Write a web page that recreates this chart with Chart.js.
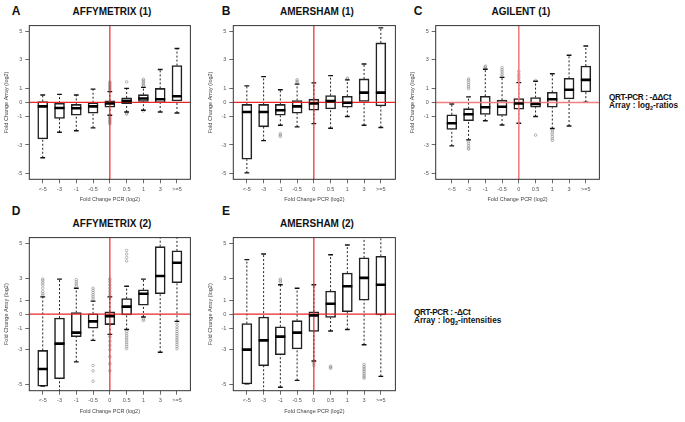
<!DOCTYPE html>
<html>
<head>
<meta charset="utf-8">
<script src="https://cdn.jsdelivr.net/npm/chart.js@4"></script>
<style>
body { margin: 0; background: #fff; }
#fig { position: relative; width: 685px; height: 422px; overflow: hidden; background: #fff;
       font-family: "Liberation Sans", Arial, sans-serif; }
#fig canvas { position: absolute; }
.lbl { position: absolute; font-weight: bold; color: #111; white-space: nowrap; transform: translate(-50%, -50%); }
.ttl { font-size: 10px; }
.let { font-size: 12px; }
.note { position: absolute; font-weight: bold; font-size: 8.2px; line-height: 8px; color: #111; white-space: nowrap; }
.note .q { letter-spacing: -0.35px; }
.note sub { font-size: 5.5px; line-height: 0; vertical-align: -1.5px; }
</style>
</head>
<body>
<div id="fig">
  <div class="lbl let" style="left:16px;top:11px">A</div>
  <div class="lbl let" style="left:226px;top:11px">B</div>
  <div class="lbl let" style="left:418px;top:11px">C</div>
  <div class="lbl let" style="left:16px;top:211px">D</div>
  <div class="lbl let" style="left:226px;top:211px">E</div>
  <div class="lbl ttl" style="left:112px;top:11px">AFFYMETRIX (1)</div>
  <div class="lbl ttl" style="left:317px;top:11px">AMERSHAM (1)</div>
  <div class="lbl ttl" style="left:521px;top:11px">AGILENT (1)</div>
  <div class="lbl ttl" style="left:112px;top:223px">AFFYMETRIX (2)</div>
  <div class="lbl ttl" style="left:317px;top:223px">AMERSHAM (2)</div>
  <div class="note" style="left:609px;top:94px"><span class="q">QRT-PCR : -ΔΔCt</span><br>Array : log<sub>2</sub>-ratios</div>
  <div class="note" style="left:414px;top:308.5px"><span class="q">QRT-PCR : -ΔCt</span><br>Array : log<sub>2</sub>-intensities</div>
  <canvas id="chartA"></canvas>
  <canvas id="chartB"></canvas>
  <canvas id="chartC"></canvas>
  <canvas id="chartD"></canvas>
  <canvas id="chartE"></canvas>
</div>
<script>
const xCats = ['<-5', '-3', '-1', '-0.5', '0', '0.5', '1', '3', '>=5'];
const yTickVals = [-5, -3, -1, 0, 1, 3, 5];

// A - Affymetrix (1): whisker low, Q1, median, Q3, whisker high
const aLo  = [-3.9, -2.1, -2.0, -1.79, -0.9, -0.67, -0.55, -0.67, -0.74];
const aQ1  = [-2.57, -1.13, -0.9, -0.76, -0.34, -0.09, 0.07, -0.02, 0.11];
const aMed = [-0.28, -0.39, -0.41, -0.28, -0.07, 0.09, 0.28, 0.23, 0.44];
const aQ3  = [0.07, -0.05, -0.14, -0.02, 0.11, 0.32, 0.55, 0.99, 2.6];
const aHi  = [0.53, 0.57, 0.53, 0.94, 0.76, 0.99, 1.06, 2.32, 3.8];
const aOut = [[4, 0.85], [4, 0.95], [4, 1.05], [4, 1.15], [4, 1.25], [4, 1.35], [4, 1.45],
              [4, -1.0], [4, -1.1], [4, -1.2], [4, -1.3], [4, -1.4], [4, -1.5],
              [5, 1.45], [5, -0.75], [5, -0.82],
              [6, 1.15], [6, 1.25], [6, 1.35], [6, 1.45], [6, 1.55], [6, 1.63], [6, -0.6]];

// B - Amersham (1)
const bLo  = [-4.97, -2.69, -1.61, -1.72, -1.49, -1.82, -0.99, -1.61, -1.77];
const bQ1  = [-4.0, -1.72, -0.9, -0.76, -0.55, -0.46, -0.34, 0.07, -0.25];
const bMed = [-0.67, -0.67, -0.55, -0.28, -0.07, 0.09, -0.02, 0.69, 0.69];
const bQ3  = [-0.14, -0.14, -0.14, 0.14, 0.23, 0.48, 0.44, 1.66, 4.2];
const bHi  = [1.17, 1.82, 0.9, 1.29, 1.38, 1.89, 1.59, 2.71, 5.26];
const bOut = [[2, -2.2], [2, -2.3], [2, -2.4], [3, 1.4], [3, 1.5], [3, 1.6], [6, 1.65], [6, 1.72]];

// C - Agilent (1)
const cLo  = [-3.06, -2.64, -1.29, -1.59, -1.47, -0.99, -1.84, -1.66, 0.02];
const cQ1  = [-1.9, -1.29, -0.85, -0.92, -0.48, -0.34, -0.34, 0.25, 0.74];
const cMed = [-1.47, -0.83, -0.34, -0.3, -0.07, -0.11, 0.23, 0.9, 1.59];
const cQ3  = [-0.87, -0.44, 0.44, 0.16, 0.28, 0.34, 0.71, 1.7, 2.57];
const cHi  = [-0.11, 0.39, 2.34, 1.77, 1.4, 1.49, 2.02, 3.33, 3.98];
const cOut = [[1, 0.97], [1, 1.1], [1, 1.25], [1, 1.4], [1, 1.55], [1, 1.66],
              [1, -2.75], [1, -2.9], [1, -3.05], [1, -3.2], [1, -3.29],
              [2, 2.4], [2, 2.5], [2, 2.56],
              [3, 1.85], [3, 2.0], [3, 2.15], [3, 2.3], [3, 2.45],
              [4, 1.55], [4, 1.7], [4, 1.85], [4, 2.0], [4, 2.2],
              [5, 1.55], [5, -2.3],
              [6, -1.95], [6, -2.1], [6, -2.25], [6, -2.4], [6, -2.55], [6, -2.67]];

// D - Affymetrix (2)
const dLo  = [-5.08, -5.6, -3.69, -2.13, -1.57, -1.11, -0.2, -3.14, -0.51];
const dQ1  = [-5.08, -4.65, -1.78, -0.99, -0.74, -0.05, 0.64, 1.59, 2.62];
const dMed = [-4.1, -2.43, -1.41, -0.51, -0.14, 0.53, 1.59, 3.15, 3.9];
const dQ3  = [-3.04, -0.28, 0.11, 0.02, 0.16, 1.13, 1.95, 4.82, 4.58];
const dHi  = [1.29, 2.95, 2.1, 0.92, 1.29, 2.29, 2.95, 5.6, 5.6];
const dOut = [[0, 1.45], [0, 1.6], [0, 1.8], [0, 2.1], [0, 2.4], [0, 2.6], [0, 2.8], [0, 2.95],
              [2, 2.3], [2, 2.5], [2, 2.7], [2, 2.9],
              [3, 1.1], [3, 1.3], [3, 1.5], [3, 1.7], [3, 1.9], [3, 2.1], [3, -3.9], [3, -4.2], [3, -4.8],
              [4, 1.5], [4, 1.8], [4, 2.1], [4, 2.4], [4, 2.7], [4, 2.95],
              [4, -1.8], [4, -2.2], [4, -2.6], [4, -3.0], [4, -3.4], [4, -3.8], [4, -4.2],
              [5, 4.0], [5, 4.2], [5, 4.4], [5, 4.6],
              [5, -1.3], [5, -1.5], [5, -1.7], [5, -1.9], [5, -2.1], [5, -2.3], [5, -2.5], [5, -2.7], [5, -2.9],
              [6, -0.35], [6, -0.45],
              [8, -0.7], [8, -0.9], [8, -1.1], [8, -1.3], [8, -1.5], [8, -1.7], [8, -1.9], [8, -2.1], [8, -2.3], [8, -2.5], [8, -2.7], [8, -2.9]];

// E - Amersham (2)
const eLo  = [-4.95, -5.6, -5.14, -4.75, -3.64, -1.26, -1.11, -2.53, -4.52];
const eQ1  = [-4.95, -3.92, -3.28, -2.92, -1.29, -0.23, 0.18, 0.99, -0.05];
const eMed = [-2.99, -2.13, -1.78, -1.41, -0.09, 0.74, 2.29, 3.04, 2.43];
const eQ3  = [-0.67, -0.21, -0.9, -0.46, 0.16, 1.83, 3.31, 4.18, 4.27];
const eHi  = [4.08, 4.4, 2.43, 2.1, 2.43, 4.36, 4.92, 5.6, 5.6];
const eOut = [[2, 2.66], [2, 2.8], [2, 2.95], [4, -3.75], [4, -3.9],
              [5, -3.94], [5, -4.0], [5, -4.06],
              [7, -3.84], [7, -3.95], [7, -4.05], [7, -4.15], [7, -4.25], [7, -4.35], [7, -4.45], [7, -4.55], [7, -4.62]];

// the intensity panels (D, E) use a bent y axis: tick values -> axis units
const bendVals = [0, 1, 3, 5];
const bendPos = [0, 1, 2.52, 5];
function bend(v) {
  const a = Math.abs(v);
  let i = 1;
  while (i < bendVals.length - 1 && a > bendVals[i]) i++;
  const slope = (bendPos[i] - bendPos[i - 1]) / (bendVals[i] - bendVals[i - 1]);
  return Math.sign(v) * (bendPos[i - 1] + (a - bendVals[i - 1]) * slope);
}

const font = '"Liberation Sans", Arial, sans-serif';
const refCat = xCats.indexOf('0');

const framePlugin = {
  id: 'frame',
  afterDatasetsDraw(chart) {
    const { ctx, chartArea: a } = chart;
    ctx.save();
    ctx.strokeStyle = '#333';
    ctx.lineWidth = 1;
    ctx.strokeRect(a.left, a.top, a.right - a.left, a.bottom - a.top);
    ctx.restore();
  }
};

function boxPanel(id, box, stats, outs, opt) {
  const f = opt.bent ? bend : v => v;
  const [lo, q1, med, q3, hi] = stats;
  const yAxisW = 29.3, xAxisH = 25.7;
  const cl = Math.floor(box.l - yAxisW - 1), ct = Math.floor(box.t - 4);
  const w = Math.ceil(box.r - cl + 3), h = Math.ceil(box.b - ct + xAxisH + 1);
  const cv = document.getElementById(id);
  cv.width = w; cv.height = h;
  cv.style.left = cl + 'px'; cv.style.top = ct + 'px';
  cv.style.width = w + 'px'; cv.style.height = h + 'px';

  const boxes = xCats.map((c, i) => ({ x: i, y: [f(q1[i]), f(q3[i])] }));
  const meds = xCats.map((c, i) => ({ x: i, y: f(med[i]) }));
  const caps = [];
  const whisk = [];
  xCats.forEach((c, i) => {
    caps.push({ x: i, y: f(lo[i]) }, { x: i, y: f(hi[i]) });
    whisk.push({ x: i, y: f(lo[i]) }, { x: i, y: f(q1[i]) }, { x: i, y: null },
               { x: i, y: f(q3[i]) }, { x: i, y: f(hi[i]) }, { x: i, y: null });
  });
  const outPts = outs.map(o => ({ x: o[0], y: f(o[1]) }));
  const yMin = -5.42, yMax = 5.42;

  new Chart(cv, {
    type: 'bar',
    data: {
      datasets: [
        { type: 'line', data: meds, showLine: false, pointStyle: 'line', pointRadius: 5,
          pointBorderWidth: 2.6, borderColor: '#000', order: 0 },
        { type: 'line', data: [{ x: opt.xMin, y: 0 }, { x: opt.xMax, y: 0 }], borderColor: opt.red,
          borderWidth: opt.redW, pointRadius: 0, order: 1 },
        { type: 'line', data: [{ x: refCat, y: yMin }, { x: refCat, y: yMax }], borderColor: opt.red,
          borderWidth: opt.redW, pointRadius: 0, order: 1 },
        { type: 'line', data: caps, showLine: false, pointStyle: 'line', pointRadius: 2.4,
          pointBorderWidth: 1.4, borderColor: '#111', order: 2 },
        { type: 'bar', data: boxes, backgroundColor: 'rgba(0,0,0,0)', borderColor: '#222',
          borderWidth: 0.9, borderSkipped: false, barThickness: 10, order: 3 },
        { type: 'line', data: whisk, borderColor: '#222', borderWidth: 1, borderDash: [2, 2],
          pointRadius: 0, spanGaps: false, order: 4 },
        { type: 'line', data: outPts, showLine: false, pointStyle: 'circle', pointRadius: 1.3,
          pointBorderWidth: 0.6, borderColor: '#8a8a8a', backgroundColor: 'rgba(0,0,0,0)', order: 5 }
      ]
    },
    options: {
      responsive: false,
      animation: false,
      events: [],
      layout: { padding: { left: box.l - yAxisW - cl, top: box.t - ct, right: w - (box.r - cl), bottom: h - (box.b - ct) - xAxisH } },
      plugins: { legend: { display: false }, tooltip: { enabled: false } },
      scales: {
        x: {
          type: 'linear', min: opt.xMin, max: opt.xMax, offset: false,
          afterBuildTicks: s => { s.ticks = xCats.map((c, i) => ({ value: i })); },
          afterFit: s => { s.height = xAxisH; },
          ticks: { autoSkip: false, maxRotation: 0, minRotation: 0, padding: 2.5, color: '#555',
                   font: { family: font, size: 5.5 }, callback: (v, i) => xCats[i] },
          grid: { drawOnChartArea: false, offset: false, tickLength: 4, color: '#444', lineWidth: 0.8 },
          border: { display: false },
          title: { display: true, text: 'Fold Change PCR (log2)', color: '#444',
                   font: { family: font, size: 5.5 }, padding: { top: 0, bottom: 2 } }
        },
        y: {
          type: 'linear', min: yMin, max: yMax,
          afterBuildTicks: s => { s.ticks = yTickVals.map(v => ({ value: f(v) })); },
          afterFit: s => { s.width = yAxisW; },
          ticks: { autoSkip: false, padding: 3, color: '#555', font: { family: font, size: 5.5 },
                   callback: (v, i) => String(yTickVals[i]) },
          grid: { drawOnChartArea: false, tickLength: 4, color: '#444', lineWidth: 0.8 },
          border: { display: false },
          title: { display: true, text: 'Fold Change Array (log2)', color: '#444',
                   font: { family: font, size: 5.5 }, padding: { top: 3, bottom: 0 } }
        }
      }
    },
    plugins: [framePlugin]
  });
}

const red = '#e8262a';
boxPanel('chartA', { l: 29.3, r: 195, t: 22.3, b: 179.3 }, [aLo, aQ1, aMed, aQ3, aHi], aOut,
         { bent: false, red: red, redW: 1.2, xMin: -0.8, xMax: 8.8 });
boxPanel('chartB', { l: 233.3, r: 400, t: 22.3, b: 179.3 }, [bLo, bQ1, bMed, bQ3, bHi], bOut,
         { bent: false, red: red, redW: 1.2, xMin: -0.81, xMax: 8.87 });
boxPanel('chartC', { l: 435.7, r: 604, t: 22.3, b: 179.3 }, [cLo, cQ1, cMed, cQ3, cHi], cOut,
         { bent: false, red: '#f08080', redW: 1.6, xMin: -0.96, xMax: 8.81 });
boxPanel('chartD', { l: 29.3, r: 195, t: 234.5, b: 390.7 }, [dLo, dQ1, dMed, dQ3, dHi], dOut,
         { bent: true, red: red, redW: 1.2, xMin: -0.8, xMax: 8.8 });
boxPanel('chartE', { l: 233.3, r: 400, t: 234.5, b: 390.7 }, [eLo, eQ1, eMed, eQ3, eHi], eOut,
         { bent: true, red: red, redW: 1.2, xMin: -0.81, xMax: 8.87 });
</script>
</body>
</html>
